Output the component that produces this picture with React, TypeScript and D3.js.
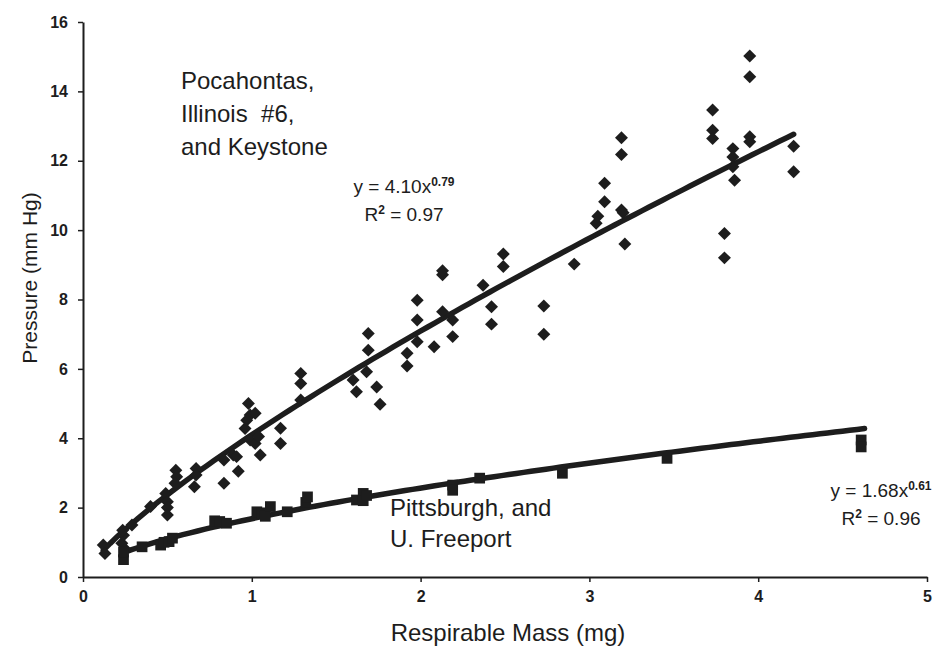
import { useEffect, useRef } from 'react';
import * as d3 from 'd3';

// Pocahontas, Illinois #6 and Keystone (diamonds)
const diamondX = [
  0.12, 0.13, 0.23, 0.24, 0.235, 0.25, 0.29, 0.40, 0.49, 0.50, 0.50, 0.50,
  0.55, 0.555, 0.545, 0.67, 0.67, 0.66, 0.835, 0.835, 0.89, 0.91, 0.92,
  0.98, 0.99, 0.97, 0.96, 1.02, 0.99, 1.02, 1.05, 1.04, 1.17, 1.17,
  1.29, 1.29, 1.29, 1.62, 1.60, 1.68, 1.69, 1.69, 1.74, 1.76,
  1.92, 1.92, 1.98, 1.98, 1.98, 2.08, 2.13, 2.13, 2.13, 2.19, 2.19,
  2.37, 2.42, 2.42, 2.49, 2.49, 2.73, 2.73, 2.91,
  3.04, 3.05, 3.09, 3.09, 3.19, 3.19, 3.19, 3.20, 3.21,
  3.73, 3.73, 3.73, 3.80, 3.80, 3.85, 3.85, 3.85, 3.86,
  3.95, 3.95, 3.95, 3.95, 4.21, 4.21,
];
const diamondY = [
  0.92, 0.68, 0.97, 1.2, 1.35, 0.8, 1.5, 2.03, 2.41, 2.17, 2.0, 1.79,
  3.08, 2.89, 2.7, 3.13, 2.94, 2.6, 3.37, 2.7, 3.52, 3.47, 3.05,
  5.0, 4.67, 4.52, 4.28, 4.72, 3.95, 3.85, 3.52, 4.05, 4.29, 3.85,
  5.87, 5.58, 5.1, 5.34, 5.68, 5.92, 6.54, 7.02, 5.48, 4.98,
  6.45, 6.08, 7.98, 7.41, 6.78, 6.64, 8.71, 8.83, 7.65, 7.41, 6.93,
  8.41, 7.79, 7.29, 9.31, 8.95, 7.81, 7.0, 9.02,
  10.2, 10.4, 10.82, 11.35, 12.66, 12.18, 10.58, 10.5, 9.6,
  13.46, 12.88, 12.64, 9.9, 9.2, 12.35, 12.11, 11.83, 11.44,
  15.02, 14.42, 12.69, 12.55, 12.42, 11.68,
];

// Pittsburgh and U. Freeport (squares)
const squareX = [
  0.24, 0.24, 0.35, 0.46, 0.48, 0.51, 0.53, 0.78, 0.81, 0.85,
  1.03, 1.06, 1.08, 1.11, 1.21, 1.32, 1.33, 1.62, 1.66, 1.66, 1.68,
  2.19, 2.19, 2.35, 2.84, 3.46, 4.61, 4.61,
];
const squareY = [
  0.5, 0.72, 0.87, 0.92, 1.0, 1.02, 1.12, 1.62, 1.6, 1.55,
  1.88, 1.85, 1.75, 2.03, 1.88, 2.15, 2.31, 2.22, 2.41, 2.2, 2.35,
  2.65, 2.5, 2.85, 2.99, 3.42, 3.95, 3.75,
];

// power-law trendlines as printed on the chart
const fitA = { a: 4.10, b: 0.79, from: 0.12, to: 4.21 };
const fitB = { a: 1.68, b: 0.61, from: 0.24, to: 4.63 };

const xTicks = [0, 1, 2, 3, 4, 5];
const yTicks = [0, 2, 4, 6, 8, 10, 12, 14, 16];

const W = 941;
const H = 649;
const margin = { top: 22, right: 14, bottom: 72, left: 83 };
const ink = '#1d1d1d';
const font = '"Liberation Sans", Arial, sans-serif';

export default function App() {
  const svgRef = useRef<SVGSVGElement>(null);

  useEffect(() => {
    if (!svgRef.current) return;
    const svg = d3.select(svgRef.current);
    svg.selectAll('*').remove();

    const x = d3.scaleLinear().domain([0, 5]).range([margin.left, W - margin.right]);
    const y = d3.scaleLinear().domain([0, 16]).range([H - margin.bottom, margin.top]);

    // axes
    const xAxis = svg.append('g')
      .attr('transform', `translate(0,${y(0)})`)
      .call(d3.axisBottom(x).tickValues(xTicks).tickFormat(d3.format('d'))
        .tickSize(5).tickSizeOuter(0).tickPadding(9));
    const yAxis = svg.append('g')
      .attr('transform', `translate(${x(0)},0)`)
      .call(d3.axisLeft(y).tickValues(yTicks).tickFormat(d3.format('d'))
        .tickSize(5).tickSizeOuter(0).tickPadding(10));

    [xAxis, yAxis].forEach(g => {
      g.select('.domain').attr('stroke', ink).attr('stroke-width', 2);
      g.selectAll('.tick line').attr('stroke', ink).attr('stroke-width', 1.5);
      g.selectAll('.tick text')
        .attr('fill', ink)
        .style('font-family', font)
        .style('font-size', '16px')
        .style('font-weight', 'bold');
    });

    // trendlines
    const line = d3.line<number>()
      .x(d => x(d))
      .curve(d3.curveLinear);
    [fitA, fitB].forEach(f => {
      const xs = d3.range(0, 101).map(i => f.from + (f.to - f.from) * i / 100);
      svg.append('path')
        .datum(xs)
        .attr('fill', 'none')
        .attr('stroke', ink)
        .attr('stroke-width', 5.5)
        .attr('stroke-linecap', 'round')
        .attr('d', line.y(d => y(f.a * Math.pow(d, f.b)))(xs));
    });

    // markers
    const diamond = d3.symbol().type(d3.symbolSquare).size(84)();
    svg.append('g').selectAll('path')
      .data(diamondX)
      .join('path')
      .attr('d', diamond)
      .attr('fill', ink)
      .attr('transform', (d, i) => `translate(${x(d)},${y(diamondY[i])}) rotate(45)`);

    const square = d3.symbol().type(d3.symbolSquare).size(115)();
    svg.append('g').selectAll('path')
      .data(squareX)
      .join('path')
      .attr('d', square)
      .attr('fill', ink)
      .attr('transform', (d, i) => `translate(${x(d)},${y(squareY[i])})`);

    // axis titles
    svg.append('text')
      .attr('x', 508)
      .attr('y', 641)
      .attr('text-anchor', 'middle')
      .attr('fill', ink)
      .style('font-family', font)
      .style('font-size', '24px')
      .text('Respirable Mass (mg)');
    svg.append('text')
      .attr('transform', 'translate(37,278) rotate(-90)')
      .attr('text-anchor', 'middle')
      .attr('fill', ink)
      .style('font-family', font)
      .style('font-size', '21px')
      .text('Pressure (mm Hg)');

    // labels
    const label = (lines: string[], lx: number, ly: number, step: number) => {
      const t = svg.append('text')
        .attr('fill', ink)
        .style('font-family', font)
        .style('font-size', '24px');
      lines.forEach((s, i) => {
        t.append('tspan').attr('x', lx).attr('y', ly + i * step).text(s);
      });
    };
    label(['Pocahontas,', 'Illinois \u00a0#6,', 'and Keystone'], 181, 89, 33);
    label(['Pittsburgh, and', 'U. Freeport'], 390, 516, 31);

    const equation = (cx: number, cy: number, coef: string, exp: string, r2: string) => {
      const t = svg.append('text')
        .attr('x', cx)
        .attr('y', cy)
        .attr('text-anchor', 'middle')
        .attr('fill', ink)
        .style('font-family', font)
        .style('font-size', '19px');
      t.append('tspan').text(`y = ${coef}x`);
      t.append('tspan').attr('dy', -7).style('font-size', '12px').style('font-weight', 'bold').text(exp);
      const r = svg.append('text')
        .attr('x', cx)
        .attr('y', cy + 28)
        .attr('text-anchor', 'middle')
        .attr('fill', ink)
        .style('font-family', font)
        .style('font-size', '19px');
      r.append('tspan').text('R');
      r.append('tspan').attr('dy', -7).style('font-size', '12px').style('font-weight', 'bold').text('2');
      r.append('tspan').attr('dy', 7).text(` = ${r2}`);
    };
    equation(404, 193, '4.10', '0.79', '0.97');
    equation(881, 497, '1.68', '0.61', '0.96');
  }, []);

  return (
    <svg
      ref={svgRef}
      width={W}
      height={H}
      style={{ position: 'absolute', left: 0, top: 0, background: '#fff' }}
    />
  );
}
